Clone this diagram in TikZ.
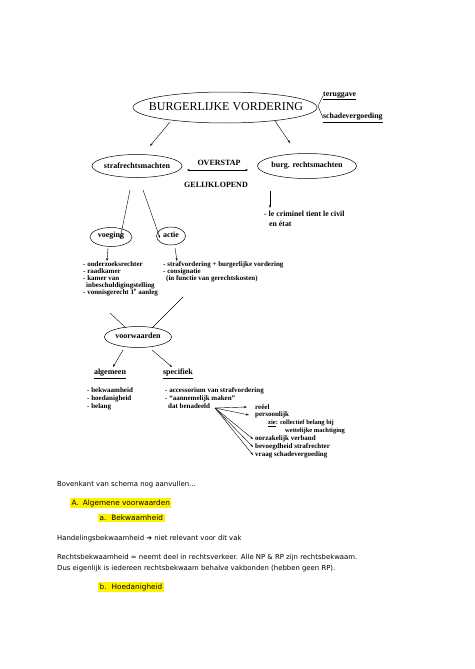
\documentclass[tikz,border=0pt]{standalone}
\usepackage{fontspec}
\setmainfont{Liberation Serif}
\newfontfamily\versans{DejaVu Sans}
\usetikzlibrary{shapes.geometric,arrows.meta}
\begin{document}
\begin{tikzpicture}[x=1pt,y=-1pt,
  oval/.style={draw,ellipse,line width=0.5pt,inner sep=0pt},
  lbl/.style={font=\fontsize{8}{9}\selectfont\bfseries,inner sep=0pt},
  lst/.style={font=\fontsize{7}{7}\selectfont\bfseries,inner sep=0pt,align=left,anchor=north west},
  fan/.style={font=\fontsize{7}{7}\selectfont\bfseries,inner sep=0pt,anchor=west},
  arr/.style={-{Stealth[length=3pt,width=2pt]},line width=0.4pt},
  ln/.style={line width=0.4pt},
  body/.style={font=\versans\fontsize{6.9}{8}\selectfont,inner sep=0pt,anchor=west},
  hl/.style={fill=yellow,inner ysep=1.2pt,inner xsep=1.5pt,font=\versans\fontsize{7.3}{8}\selectfont}]
\useasboundingbox (0,0) rectangle (474,669);
\fill[white] (0,0) rectangle (474,669);
% top
\node[oval,minimum width=184pt,minimum height=31pt] (bv) at (225,107.5) {};
\node[font=\fontsize{12}{13}\selectfont,inner sep=0pt] (bvt) at (226,107) {BURGERLIJKE VORDERING};
\node[fan,font=\fontsize{7.8}{8}\selectfont\bfseries] (ter) at (323,96) {\underline{teruggave}};
\node[fan,font=\fontsize{7.8}{8}\selectfont\bfseries] (sch) at (323,118) {\underline{schadevergoeding}};
\coordinate (bvr) at (318,106);
\draw[ln] (bvr) -- (ter.west);
\draw[ln] (bvr) -- (sch.west);
% level 2
\node[oval,minimum width=90pt,minimum height=23pt] (srm) at (137,166) {};
\node[lbl] at (137,166) {strafrechtsmachten};
\node[oval,minimum width=99pt,minimum height=25pt] (brm) at (307,166) {};
\node[lbl] at (307,166) {burg. rechtsmachten};
\node[lbl] (ov) at (219,163) {OVERSTAP};
\node[lbl] (gl) at (216,185) {GELIJKLOPEND};
\coordinate (a1) at (170,122); \coordinate (a1e) at (150,146);
\coordinate (a2) at (275,121); \coordinate (a2e) at (290,143);
\draw[arr] (a1) -- (a1e);
\draw[arr] (a2) -- (a2e);
\coordinate (ovl) at (187,170); \coordinate (ovr) at (248,170);
\draw[{Stealth[length=2.5pt,width=2pt]}-{Stealth[length=2.5pt,width=2pt]},line width=0.3pt] (ovl) -- (ovr);
% burg branch
\coordinate (b1) at (270,191); \coordinate (b1e) at (270,208);
\draw[arr] (b1) -- (b1e);
\node[lst,font=\fontsize{7.8}{10}\selectfont\bfseries] (crim) at (264,210.5) {- le criminel tient le civil\\\hspace*{5pt}en état};
% strafrecht branch
\node[oval,minimum width=42pt,minimum height=19pt] (vg) at (111,237) {};
\node[lbl] at (111,236) {voeging};
\node[oval,minimum width=29pt,minimum height=18pt] (ac) at (171,236) {};
\node[lbl] at (171,235) {actie};
\coordinate (s1) at (130,190); \coordinate (s1e) at (120,239);
\coordinate (s2) at (143,190); \coordinate (s2e) at (160,238);
\draw[arr] (s1) -- (s1e);
\draw[arr] (s2) -- (s2e);
\coordinate (v1) at (108,248); \coordinate (v1e) at (107,261);
\coordinate (c1) at (175,248); \coordinate (c1e) at (177,261);
\draw[arr] (v1) -- (v1e);
\draw[arr] (c1) -- (c1e);
\node[lst] (vgl) at (83,261.5) {- onderzoeksrechter\\- raadkamer\\- kamer van\\\hspace*{3pt}inbeschuldigingstelling\\- vonnisgerecht 1\textsuperscript{e} aanleg};
\node[lst] (acl) at (163,261.5) {- strafvordering + burgerlijke vordering\\- consignatie\\\hspace*{3pt}(in functie van gerechtskosten)};
% voorwaarden
\node[oval,minimum width=67pt,minimum height=21pt] (vw) at (138,337) {};
\node[lbl] at (138,336) {voorwaarden};
\coordinate (w1) at (110,313); \coordinate (w1e) at (126,328);
\coordinate (w2) at (183,297); \coordinate (w2e) at (152,328);
\draw[ln] (w1) -- (w1e);
\draw[ln] (w2) -- (w2e);
\coordinate (d1) at (123,350); \coordinate (d1e) at (113,367);
\coordinate (d2) at (152,350); \coordinate (d2e) at (172,367);
\draw[arr] (d1) -- (d1e);
\draw[arr] (d2) -- (d2e);
\node[lbl] (alg) at (110,374) {\underline{algemeen}};
\node[lbl] (spc) at (178,374) {\underline{specifiek}};
\node[lst,font=\fontsize{7}{8}\selectfont\bfseries] (algl) at (87,387.5) {- bekwaamheid\\- hoedanigheid\\- belang};
\node[lst,font=\fontsize{7}{8}\selectfont\bfseries] (spcl) at (165,387.5) {- accessorium van strafvordering\\- ``aannemelijk maken''\\\hspace*{3pt}dat benadeeld};
% fan
\coordinate (fo) at (215,408);
\node[fan] (r1) at (255,407) {reëel};
\node[fan] (r2) at (255,415) {persoonlijk};
\node[fan,font=\fontsize{6.5}{7}\selectfont\bfseries] (r2a) at (268,423) {\underline{zie}: collectief belang bij};
\node[fan,font=\fontsize{6.5}{7}\selectfont\bfseries] (r2b) at (285,431) {wettelijke machtiging};
\node[fan] (r3) at (255,439) {oorzakelijk verband};
\node[fan] (r4) at (255,447) {bevoegdheid strafrechter};
\node[fan] (r5) at (255,455) {vraag schadevergoeding};
\draw[arr] (fo) -- ([xshift=-8pt]r1.west);
\draw[arr] (fo) -- ([xshift=-6pt]r2.west);
\draw[arr] (fo) -- ([xshift=-2pt]r3.west);
\draw[arr] (fo) -- ([xshift=-2pt]r4.west);
\draw[arr] (fo) -- ([xshift=-2pt]r5.west);
% bottom text
\node[body] (t1) at (57,485) {Bovenkant van schema nog aanvullen…};
\node[body,hl] (t2) at (70,503) {A.\hspace{4pt}Algemene voorwaarden\hspace{9pt}};
\node[body,hl] (t3) at (98,518) {a.\hspace{5pt}Bekwaamheid};
\node[body] (t4) at (57,539) {Handelingsbekwaamheid ➔ niet relevant voor dit vak};
\node[body] (t5) at (57,558) {Rechtsbekwaamheid = neemt deel in rechtsverkeer. Alle NP \& RP zijn rechtsbekwaam.};
\node[body] (t6) at (57,569) {Dus eigenlijk is iedereen rechtsbekwaam behalve vakbonden (hebben geen RP).};
\node[body,hl] (t7) at (98,587) {b.\hspace{5pt}Hoedanigheid};
\end{tikzpicture}
\end{document}
